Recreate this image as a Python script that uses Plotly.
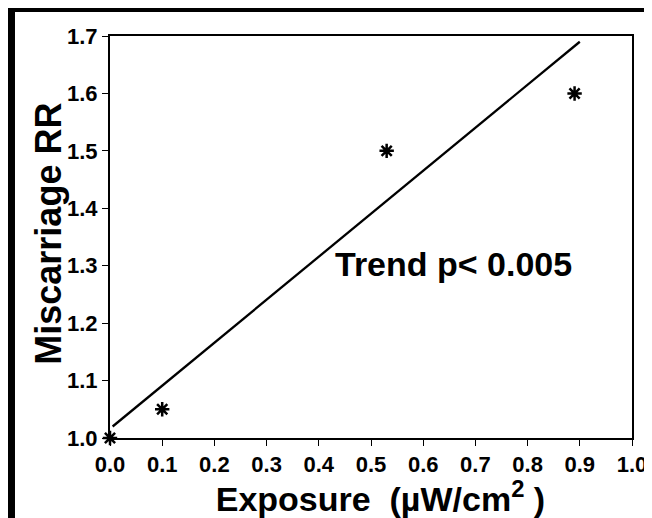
import plotly.graph_objects as go

# Data
exposure = [0.0, 0.1, 0.53, 0.89]
miscarriage_rr = [1.0, 1.05, 1.5, 1.6]
trend_x = [0.005, 0.9]
trend_y = [1.02, 1.69]
x_ticks = [0.0, 0.1, 0.2, 0.3, 0.4, 0.5, 0.6, 0.7, 0.8, 0.9, 1.0]
y_ticks = [1.0, 1.1, 1.2, 1.3, 1.4, 1.5, 1.6, 1.7]
trend_label = "Trend p< 0.005"
y_title = "Miscarriage RR"
x_title = "&nbsp;&nbsp;Exposure  (µW/cm<sup>2</sup> )"

FONT = "Liberation Sans, Arial, sans-serif"

fig = go.Figure()
fig.add_trace(go.Scatter(x=trend_x, y=trend_y, mode="lines",
                         line=dict(color="black", width=2.3),
                         showlegend=False, hoverinfo="skip"))
fig.add_trace(go.Scatter(x=exposure, y=miscarriage_rr, mode="markers",
                         marker=dict(symbol="asterisk-open", size=12, color="black",
                                     line=dict(color="black", width=2.5)),
                         cliponaxis=False, showlegend=False))

fig.add_annotation(x=0.658, y=1.303, xref="x", yref="y", text=trend_label,
                   showarrow=False,
                   font=dict(family=FONT, size=34, color="black", weight="bold"))

# y axis title
fig.add_annotation(x=-0.117, y=0.508, xref="paper", yref="paper", text=y_title,
                   textangle=-90, showarrow=False, xanchor="center", yanchor="middle",
                   font=dict(family=FONT, size=36, color="black", weight="bold"))

# decorative frame (top and left thick bands)
fig.add_shape(type="rect", xref="paper", yref="paper",
              x0=-0.1954, x1=1.06, y0=1.0597, y1=1.08,
              fillcolor="black", line=dict(width=0), layer="above")
fig.add_shape(type="rect", xref="paper", yref="paper",
              x0=-0.1954, x1=-0.182, y0=-0.25, y1=1.08,
              fillcolor="black", line=dict(width=0), layer="above")

axis_common = dict(showgrid=False, zeroline=False, showline=True, mirror=True,
                   linecolor="black", linewidth=2, ticks="outside", ticklen=6,
                   tickwidth=1, tickcolor="black",
                   tickfont=dict(family=FONT, size=22, color="black", weight="bold"))

fig.update_xaxes(range=[0, 1.0], tickvals=x_ticks, tickformat=".1f",
                 title=dict(text=x_title, standoff=10,
                            font=dict(family=FONT, size=34, color="black", weight="bold")),
                 **axis_common)
fig.update_yaxes(range=[1.0, 1.7], tickvals=y_ticks, tickformat=".1f",
                 **axis_common)

# page body has an 8px margin, so the figure is sized to the remaining area
fig.update_layout(width=644, height=510,
                  margin=dict(l=102, r=20, t=28, b=80, autoexpand=False),
                  paper_bgcolor="white", plot_bgcolor="white")

fig.write_html("out.html")
